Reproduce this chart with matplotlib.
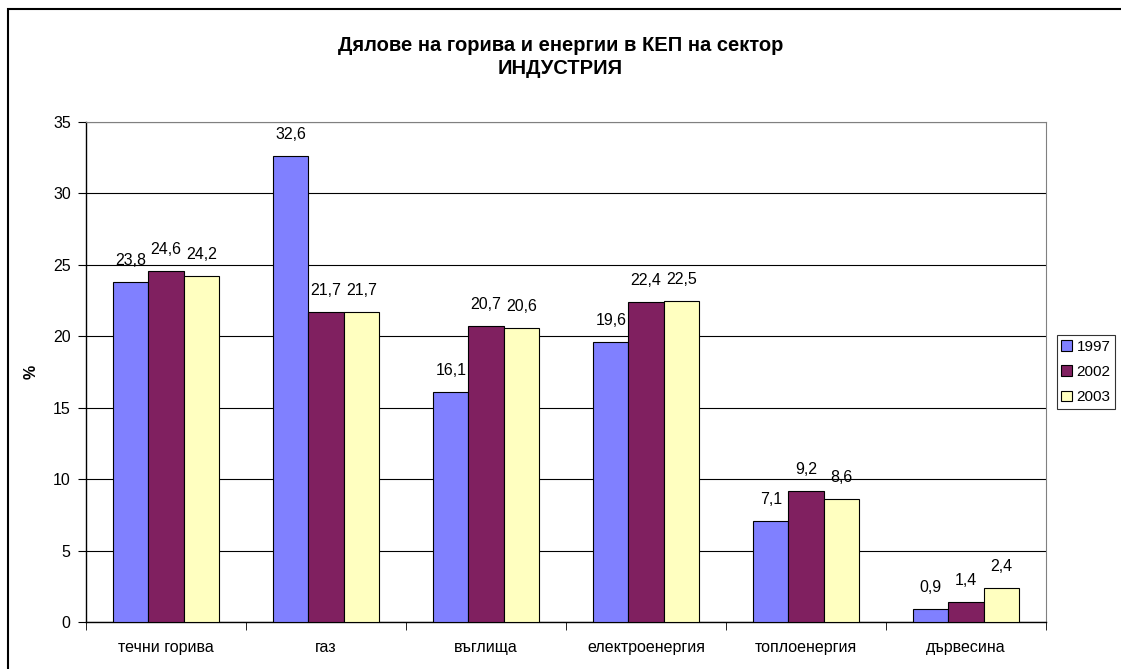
import numpy as np
import matplotlib.pyplot as plt
from matplotlib.patches import Rectangle

plt.rcParams['font.family'] = ['Liberation Sans', 'DejaVu Sans']

categories = ['течни горива', 'газ', 'въглища', 'електроенергия', 'топлоенергия', 'дървесина']
years = ['1997', '2002', '2003']
v1997 = [23.8, 32.6, 16.1, 19.6, 7.1, 0.9]
v2002 = [24.6, 21.7, 20.7, 22.4, 9.2, 1.4]
v2003 = [24.2, 21.7, 20.6, 22.5, 8.6, 2.4]
colors = ['#8080FF', '#802060', '#FFFFC0']

fs = 11.5

fig = plt.figure(figsize=(11.21, 6.69), dpi=100)
ax = fig.add_axes([86/1121, 1-622/669, (1046-86)/1121, 500/669])

# outer chart frame
fig.patches.append(Rectangle((8/1121, -0.1), 1.2, 1.1 - 9/669, transform=fig.transFigure,
                             fill=False, edgecolor='black', linewidth=1.5))

x = np.arange(len(categories))
w = 0.22
for i, (vals, yr) in enumerate(zip([v1997, v2002, v2003], years)):
    bars = ax.bar(x + (i - 1) * w, vals, w, color=colors[i], edgecolor='black',
                  linewidth=0.8, label=yr, zorder=3)
    for b, v in zip(bars, vals):
        ax.annotate(f'{v:.1f}'.replace('.', ','), (b.get_x() + b.get_width()/2, v),
                    xytext=(0, 10), textcoords='offset points', ha='center', va='bottom',
                    fontsize=fs)

ax.set_xlim(-0.5, len(categories) - 0.5)
ax.set_ylim(0, 35)
ax.set_yticks(np.arange(0, 36, 5))
ax.yaxis.grid(True, color='black', linewidth=0.8, zorder=0)
ax.set_axisbelow(True)
ax.set_xticks(x)
ax.set_xticklabels(categories, fontsize=fs)
ax.set_xticks(np.arange(-0.5, len(categories)), minor=True)
ax.tick_params(axis='x', which='major', length=0, pad=13)
ax.tick_params(axis='x', which='minor', length=6, direction='out')
ax.tick_params(axis='y', length=6, labelsize=fs, pad=5)
ax.spines['top'].set_color('#808080')
ax.spines['right'].set_color('#808080')
for s in ['left', 'bottom']:
    ax.spines[s].set_linewidth(1)
ax.set_ylabel('%', fontsize=fs, fontweight='bold', labelpad=10)

fig.text(0.5, 1-57/669, 'Дялове на горива и енергии в КЕП на сектор\nИНДУСТРИЯ',
         ha='center', va='center', fontsize=14.5, fontweight='bold', linespacing=1.25)

leg = ax.legend(loc='center left', bbox_to_anchor=(1.011, 0.5), fontsize=11,
                frameon=True, fancybox=False, edgecolor='black', handlelength=0.7,
                handleheight=0.7, handletextpad=0.3, borderpad=0.3, labelspacing=0.75,
                borderaxespad=0)
leg.get_frame().set_linewidth(0.8)

fig.savefig('out.png', dpi=100)
